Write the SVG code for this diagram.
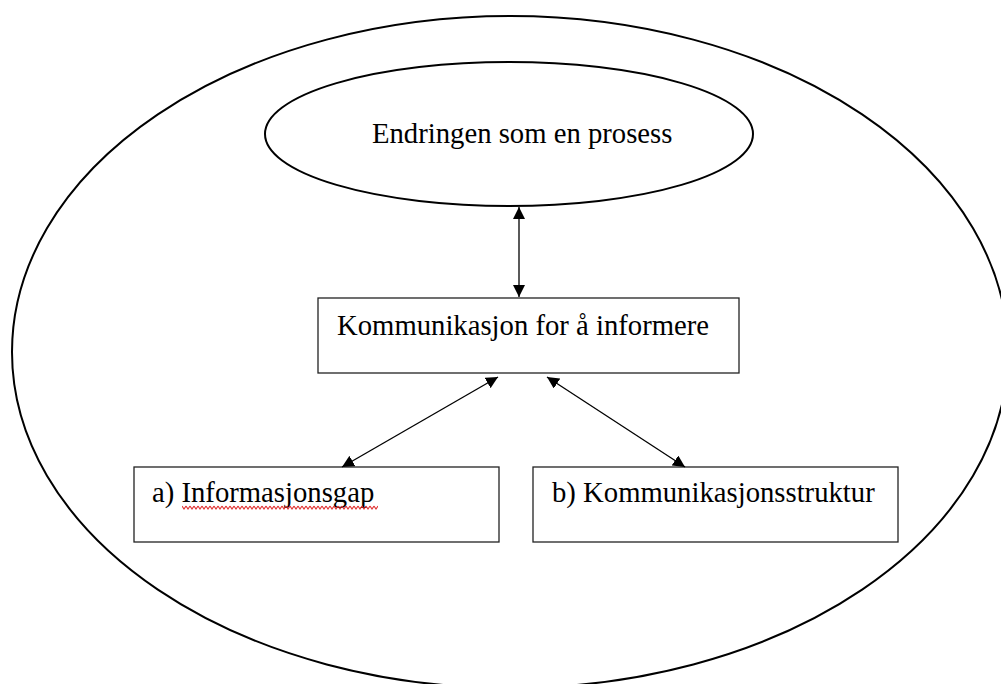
<svg xmlns="http://www.w3.org/2000/svg" width="1001" height="684" viewBox="0 0 1001 684">
<style>
.t{font-family:"Liberation Serif","Times New Roman",serif;font-size:28.7px;fill:#000}
.ell{fill:none;stroke:#000;stroke-width:2}
.box{fill:#fff;stroke:#222;stroke-width:1.3}
.con{stroke:#000;stroke-width:1.3;fill:none;marker-start:url(#ah);marker-end:url(#ah)}
</style>
<defs>
<marker id="ah" viewBox="0 0 12 12" refX="12" refY="6" markerWidth="12" markerHeight="12" markerUnits="userSpaceOnUse" orient="auto-start-reverse">
<path d="M0,0 L12,6 L0,12 Z" fill="#000"/>
</marker>
<pattern id="wave" patternUnits="userSpaceOnUse" x="182" y="505" width="4" height="5">
<polyline points="0,1 2,4 4,1" fill="none" stroke="#e03030" stroke-width="1.1"/>
</pattern>
</defs>
<rect width="1001" height="684" fill="#fff"/>
<g id="outer"><ellipse class="ell" cx="510" cy="352" rx="498" ry="336"/></g>
<g id="process">
<ellipse class="ell" cx="509" cy="134" rx="244" ry="72"/>
<text class="t" x="372" y="143">Endringen som en prosess</text>
</g>
<g id="kommunikasjon">
<rect class="box" x="318" y="298" width="421" height="75"/>
<text class="t" x="337" y="335">Kommunikasjon for å informere</text>
</g>
<g id="informasjonsgap">
<rect class="box" x="134" y="467" width="365" height="75"/>
<text class="t" x="152" y="502">a) Informasjonsgap</text>
<rect x="182" y="505" width="196" height="5" fill="url(#wave)"/>
</g>
<g id="kommunikasjonsstruktur">
<rect class="box" x="533" y="467" width="365" height="75"/>
<text class="t" x="552" y="502">b) Kommunikasjonsstruktur</text>
</g>
<g id="connectors">
<line class="con" x1="519" y1="207" x2="519" y2="297"/>
<line class="con" x1="498" y1="377" x2="342" y2="467"/>
<line class="con" x1="547" y1="377" x2="685" y2="467"/>
</g>
</svg>
